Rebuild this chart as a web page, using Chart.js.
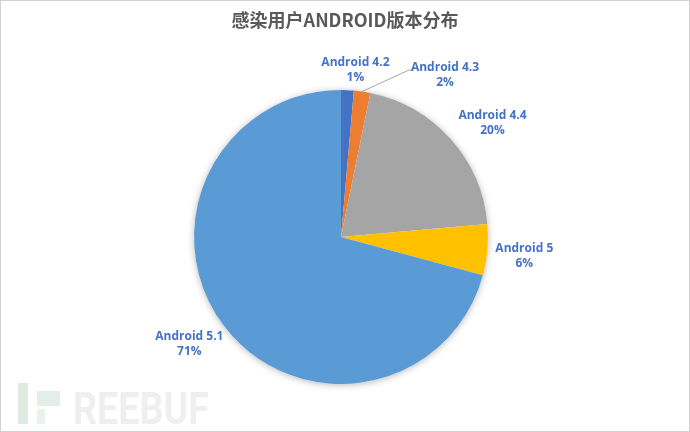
<!DOCTYPE html>
<html>
<head>
<meta charset="utf-8">
<script src="https://cdn.jsdelivr.net/npm/chart.js@4"></script>
<style>
  html, body { margin: 0; padding: 0; background: #fff; }
  #wrap { width: 690px; height: 432px; position: relative; }
</style>
</head>
<body>
<div id="wrap"><canvas id="pieChart" width="690" height="432"></canvas></div>
<script>
const chartTitle = "感染用户ANDROID版本分布";
const versions = ["Android 4.2", "Android 4.3", "Android 4.4", "Android 5", "Android 5.1"];
const shares = [1.4, 1.8, 20.4, 5.6, 70.8];
const sliceColors = ["#4472C4", "#ED7D31", "#A5A5A5", "#FFC000", "#5B9BD5"];
// distance of each label from the pie edge (null = leader line label) + small nudges
const labelGap = [22, null, 40, 34, 44];
const labelNudge = [[7, 1], [3, 0], [12, 10], [3, 3], [0, -10]];

const labelFont = "bold 12px 'Open Sans', 'Noto Sans', sans-serif";

const decorPlugin = {
  id: "decor",
  beforeDatasetsDraw(chart) {
    const arc = chart.getDatasetMeta(0).data[0];
    if (!arc) return;
    const ctx = chart.ctx;
    ctx.save();
    ctx.shadowColor = "rgba(0,0,0,0.28)";
    ctx.shadowBlur = 7;
    ctx.shadowOffsetY = 1;
    ctx.fillStyle = "#ffffff";
    ctx.beginPath();
    ctx.arc(arc.x, arc.y, arc.outerRadius, 0, Math.PI * 2);
    ctx.fill();
    ctx.restore();
  },
  afterDraw(chart) {
    const ctx = chart.ctx;
    ctx.save();
    // frame
    ctx.strokeStyle = "#D0D0D0";
    ctx.lineWidth = 1;
    ctx.strokeRect(0.5, 0.5, chart.width - 1, chart.height - 1);

    // watermark
    ctx.fillStyle = "#DDEBE3";
    ctx.fillRect(18, 383, 10, 41);
    ctx.fillStyle = "#E3EEE8";
    ctx.fillRect(37, 391, 23, 15);
    ctx.fillStyle = "#E9F2ED";
    ctx.fillRect(37, 409, 8, 15);
    ctx.fillStyle = "#EFEFEF";
    ctx.font = "bold 44px 'Liberation Sans Narrow', 'Roboto', sans-serif";
    ctx.textAlign = "left";
    ctx.textBaseline = "alphabetic";
    ctx.fillText("REEBUF", 73, 424, 136);

    // title
    ctx.fillStyle = "#595959";
    ctx.font = "bold 18px 'Noto Sans CJK SC', sans-serif";
    ctx.textAlign = "center";
    ctx.fillText(chartTitle, 345, 27);

    // data labels
    const meta = chart.getDatasetMeta(0);
    ctx.font = labelFont;
    ctx.fillStyle = "#4472C4";
    ctx.textAlign = "center";
    ctx.textBaseline = "middle";
    meta.data.forEach((el, i) => {
      const mid = (el.startAngle + el.endAngle) / 2;
      const pct = Math.round(shares[i]) + "%";
      let tx, ty;
      if (labelGap[i] === null) {
        const ex = el.x + el.outerRadius * Math.cos(mid);
        const ey = el.y + el.outerRadius * Math.sin(mid);
        const kx = el.x + 68, ky = el.y - 167;
        ctx.strokeStyle = "#A6A6A6";
        ctx.lineWidth = 1;
        ctx.beginPath();
        ctx.moveTo(ex, ey);
        ctx.lineTo(kx, ky);
        ctx.lineTo(kx + 3, ky);
        ctx.stroke();
        tx = kx + 33;
        ty = ky + 5;
      } else {
        const r = el.outerRadius + labelGap[i];
        tx = el.x + r * Math.cos(mid);
        ty = el.y + r * Math.sin(mid);
      }
      tx += labelNudge[i][0];
      ty += labelNudge[i][1];
      ctx.fillText(versions[i], tx, ty - 7);
      ctx.fillText(pct, tx, ty + 8);
    });
    ctx.restore();
  }
};

new Chart(document.getElementById("pieChart"), {
  type: "pie",
  data: {
    labels: versions,
    datasets: [
      {
        data: shares,
        backgroundColor: sliceColors,
        borderWidth: 0,
      },
    ],
  },
  options: {
    responsive: false,
    animation: false,
    layout: { padding: { top: 89, bottom: 47, left: 194, right: 202 } },
    plugins: {
      legend: { display: false },
      title: { display: false },
      tooltip: { enabled: false },
    },
  },
  plugins: [decorPlugin],
});
</script>
</body>
</html>
